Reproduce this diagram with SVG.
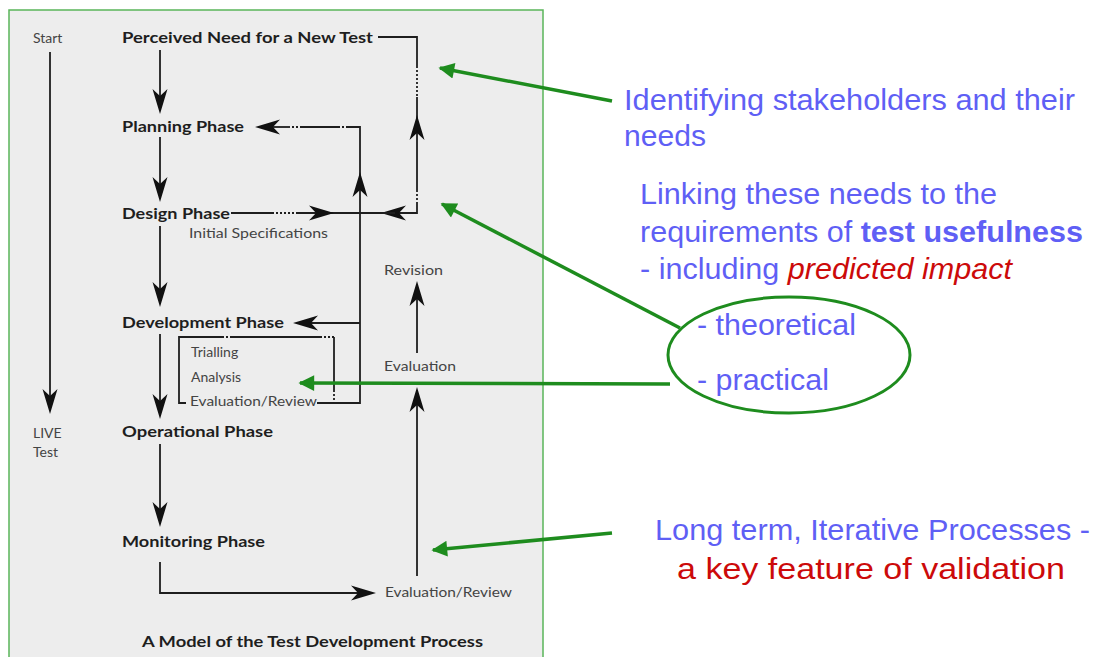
<svg xmlns="http://www.w3.org/2000/svg" xmlns:xlink="http://www.w3.org/1999/xlink" width="1101" height="657" viewBox="0 0 1101 657">
<style>
.b{font-family:"Lato","Open Sans","Liberation Sans",sans-serif;font-weight:bold;font-size:15px;fill:#1e1e1e}
.r{font-family:"Lato","Open Sans","Liberation Sans",sans-serif;font-size:14px;fill:#444}
.ln{fill:none;stroke:#1e1e1e;stroke-width:1.8}
.dt{fill:none;stroke:#1e1e1e;stroke-width:1.8;stroke-dasharray:2 2}
.bl{font-family:"Liberation Sans",Arial,sans-serif;font-size:30px;fill:#5f5ff5}
.rd{fill:#cc0a0a}
.g{fill:none;stroke:#1e8c1e;stroke-width:3.5}
</style>
<defs>
<path id="dart" d="M0,0 L-25,-7.5 L-18,0 L-25,7.5 Z" fill="#111"/>
<marker id="ga" viewBox="0 0 10 10" refX="9" refY="5" markerWidth="6" markerHeight="4.5" orient="auto">
<path d="M0,0 L10,5 L0,10 Z" fill="#1e8c1e"/>
</marker>
</defs>
<rect x="9" y="10" width="534" height="662" fill="#ededed" stroke="#5ab55a" stroke-width="1.5"/>

<g id="connectors">
<line class="ln" x1="50" y1="52" x2="50" y2="400"/>
<use href="#dart" transform="translate(50,414) rotate(90)"/>
<line class="ln" x1="160" y1="50" x2="160" y2="100"/>
<use href="#dart" transform="translate(160,114) rotate(90)"/>
<line class="ln" x1="160" y1="137" x2="160" y2="190"/>
<use href="#dart" transform="translate(160,202) rotate(90)"/>
<line class="ln" x1="160" y1="226" x2="160" y2="295"/>
<use href="#dart" transform="translate(160,307) rotate(90)"/>
<line class="ln" x1="160" y1="334" x2="160" y2="405"/>
<use href="#dart" transform="translate(160,419) rotate(90)"/>
<line class="ln" x1="160" y1="444" x2="160" y2="515"/>
<use href="#dart" transform="translate(160,527) rotate(90)"/>
<path class="ln" d="M160,562 V593 H360"/>
<use href="#dart" transform="translate(376,593)"/>
<line class="ln" x1="417" y1="576" x2="417" y2="400"/>
<use href="#dart" transform="translate(417,387) rotate(-90)"/>
<line class="ln" x1="417" y1="353" x2="417" y2="295"/>
<use href="#dart" transform="translate(417,281) rotate(-90)"/>
<path class="ln" d="M378,37 H417 V66"/>
<line class="dt" x1="417" y1="66" x2="417" y2="97"/>
<path class="ln" d="M417,97 V190"/>
<line class="dt" x1="417" y1="190" x2="417" y2="202"/>
<path class="ln" d="M417,202 V213 H395"/>
<use href="#dart" transform="translate(417,115) rotate(-90)"/>
<use href="#dart" transform="translate(381,213) rotate(180)"/>
<path class="ln" d="M231,213 H272"/>
<line class="dt" x1="272" y1="213" x2="298" y2="213"/>
<path class="ln" d="M298,213 H395"/>
<use href="#dart" transform="translate(334,213)"/>
<path class="ln" d="M317,403 H360 V127 H348"/>
<line class="dt" x1="348" y1="127" x2="338" y2="127"/>
<path class="ln" d="M338,127 H302"/>
<line class="dt" x1="302" y1="127" x2="290" y2="127"/>
<path class="ln" d="M290,127 H270"/>
<use href="#dart" transform="translate(255,127) rotate(180)"/>
<use href="#dart" transform="translate(360,172) rotate(-90)"/>
<path class="ln" d="M360,323 H300"/>
<use href="#dart" transform="translate(293,323) rotate(180)"/>
<path class="ln" d="M186,403 H179 V337 H222"/>
<line class="dt" x1="222" y1="337" x2="232" y2="337"/>
<path class="ln" d="M232,337 H320"/>
<line class="dt" x1="320" y1="337" x2="334" y2="337"/>
<path class="ln" d="M334,337 V390"/>
<line class="dt" x1="334" y1="390" x2="334" y2="403"/>
</g>

<g id="start"><text class="r" x="33" y="43">Start</text></g>
<g id="live"><text class="r" x="33" y="438">LIVE</text><text class="r" x="33" y="457">Test</text></g>
<g id="perceived"><text class="b" x="122" y="43" textLength="251" lengthAdjust="spacingAndGlyphs">Perceived Need for a New Test</text></g>
<g id="planning"><text class="b" x="122" y="132" textLength="122" lengthAdjust="spacingAndGlyphs">Planning Phase</text></g>
<g id="design"><text class="b" x="122" y="219" textLength="108" lengthAdjust="spacingAndGlyphs">Design Phase</text></g>
<g id="initial"><text class="r" x="189" y="238" textLength="139" lengthAdjust="spacingAndGlyphs">Initial Specifications</text></g>
<g id="revision"><text class="r" x="384" y="275" textLength="59" lengthAdjust="spacingAndGlyphs">Revision</text></g>
<g id="development"><text class="b" x="122" y="328" textLength="162" lengthAdjust="spacingAndGlyphs">Development Phase</text></g>
<g id="trialling"><text class="r" x="191" y="357">Trialling</text><text class="r" x="191" y="382">Analysis</text><text class="r" x="190" y="406" textLength="127" lengthAdjust="spacingAndGlyphs">Evaluation/Review</text></g>
<g id="evaluation"><text class="r" x="384" y="371" textLength="72" lengthAdjust="spacingAndGlyphs">Evaluation</text></g>
<g id="operational"><text class="b" x="122" y="437" textLength="151" lengthAdjust="spacingAndGlyphs">Operational Phase</text></g>
<g id="monitoring"><text class="b" x="122" y="547" textLength="143" lengthAdjust="spacingAndGlyphs">Monitoring Phase</text></g>
<g id="evalreview"><text class="r" x="385" y="597" textLength="127" lengthAdjust="spacingAndGlyphs">Evaluation/Review</text></g>
<g id="title"><text class="b" x="142" y="647" textLength="341" lengthAdjust="spacingAndGlyphs">A Model of the Test Development Process</text></g>

<g id="annotations">
<line class="g" x1="612" y1="101" x2="440" y2="68" marker-end="url(#ga)"/>
<line class="g" x1="680" y1="328" x2="442" y2="204" marker-end="url(#ga)"/>
<line class="g" x1="670" y1="384" x2="300" y2="383" marker-end="url(#ga)"/>
<line class="g" x1="612" y1="533" x2="433" y2="550" marker-end="url(#ga)"/>
<ellipse cx="789" cy="355" rx="121" ry="58" fill="none" stroke="#1e8c1e" stroke-width="3"/>
</g>

<g id="note1"><text class="bl" x="624" y="110" textLength="451" lengthAdjust="spacingAndGlyphs">Identifying stakeholders and their</text><text class="bl" x="624" y="146" textLength="82" lengthAdjust="spacingAndGlyphs">needs</text></g>
<g id="note2"><text class="bl" x="640" y="204" textLength="357" lengthAdjust="spacingAndGlyphs">Linking these needs to the</text>
<text class="bl" x="640" y="242" textLength="443" lengthAdjust="spacingAndGlyphs">requirements of <tspan font-weight="bold">test usefulness</tspan></text>
<text class="bl" x="640" y="279" textLength="372" lengthAdjust="spacingAndGlyphs">- including <tspan class="rd" font-style="italic">predicted impact</tspan></text></g>
<g id="note3"><text class="bl" x="697" y="335" textLength="159" lengthAdjust="spacingAndGlyphs">- theoretical</text><text class="bl" x="697" y="390" textLength="132" lengthAdjust="spacingAndGlyphs">- practical</text></g>
<g id="note4"><text class="bl" x="655" y="540" textLength="435" lengthAdjust="spacingAndGlyphs">Long term, Iterative Processes -</text>
<text class="bl rd" x="677" y="579" font-size="32" textLength="388" lengthAdjust="spacingAndGlyphs">a key feature of validation</text></g>
</svg>
